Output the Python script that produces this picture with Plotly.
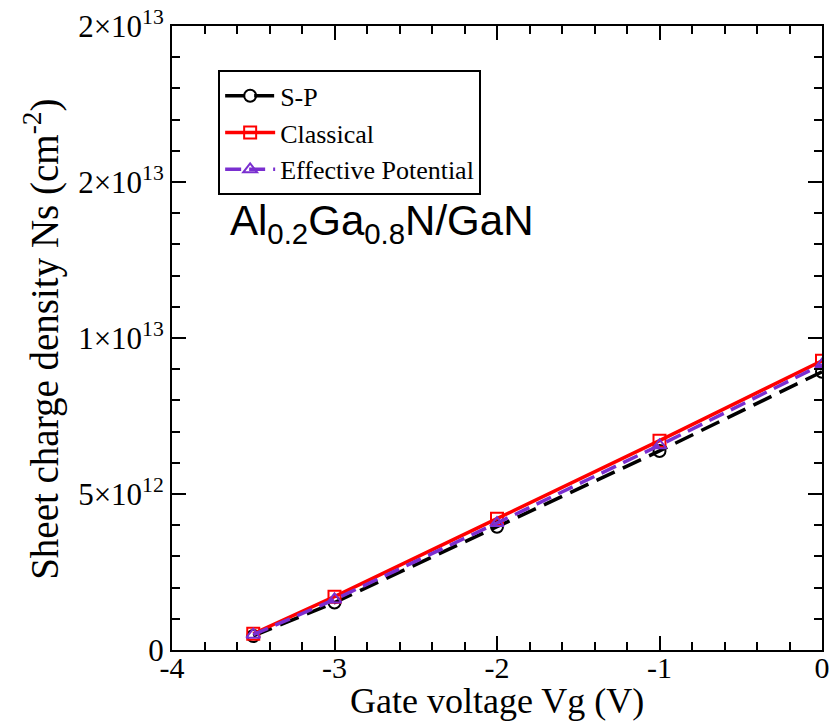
import plotly.graph_objects as go

vg = [-3.5, -3, -2, -1, 0]
sp = [0.45e12, 1.52e12, 3.95e12, 6.38e12, 8.92e12]
classical = [0.52e12, 1.71e12, 4.21e12, 6.71e12, 9.27e12]
effective = [0.49e12, 1.62e12, 4.07e12, 6.56e12, 9.15e12]

ytickvals = [0, 5e12, 1e13, 1.5e13, 2e13]
yticktext = ["0", "5×10<sup>12</sup>", "1×10<sup>13</sup>", "2×10<sup>13</sup>", "2×10<sup>13</sup>"]
xtickvals = [-4, -3, -2, -1, 0]
xticktext = ["-4", "-3", "-2", "-1", "0"]

serif = "Liberation Serif, Times New Roman, serif"

fig = go.Figure()
fig.add_trace(go.Scatter(x=vg, y=sp, name="S-P", mode="lines+markers",
                         line=dict(color="black", width=3.5, dash="20px,9px"),
                         marker=dict(symbol="circle-open", size=12, color="black", line=dict(width=2))))
fig.add_trace(go.Scatter(x=vg, y=classical, name="Classical", mode="lines+markers",
                         line=dict(color="#ff0000", width=3.5),
                         marker=dict(symbol="square-open", size=12, color="#ff0000", line=dict(width=2))))
fig.add_trace(go.Scatter(x=vg, y=effective, name="Effective Potential", mode="lines+markers",
                         line=dict(color="#7a2fd0", width=3.5, dash="16px,8px"),
                         marker=dict(symbol="triangle-up-open", size=12, color="#7a2fd0", line=dict(width=2))))

fig.update_layout(
    width=829, height=722,
    margin=dict(l=172, r=7, t=26, b=72, autoexpand=False),
    plot_bgcolor="white", paper_bgcolor="white",
    font=dict(family=serif, color="black", size=28),
    showlegend=True,
    legend=dict(x=0.071, y=0.929, xanchor="left", yanchor="top",
                bordercolor="black", borderwidth=2, bgcolor="white",
                font=dict(family=serif, size=26), tracegroupgap=0, itemwidth=50),
    xaxis=dict(range=[-4, 0], tickvals=xtickvals, ticktext=xticktext,
               ticks="inside", ticklen=14, tickwidth=2, tickcolor="black",
               showline=True, linewidth=2, linecolor="black", mirror="allticks",
               showgrid=False, zeroline=False, automargin=False,
               ticklabeloverflow="allow", ticklabelstandoff=-10,
               minor=dict(ticks="inside", dtick=0.2, ticklen=8, tickwidth=2, tickcolor="black", showgrid=False),
               tickfont=dict(size=30)),
    yaxis=dict(range=[0, 2e13], tickvals=ytickvals, ticktext=yticktext,
               ticks="inside", ticklen=14, tickwidth=2, tickcolor="black",
               showline=True, linewidth=2, linecolor="black", mirror="allticks",
               showgrid=False, zeroline=False, automargin=False,
               ticklabeloverflow="allow",
               minor=dict(ticks="inside", dtick=1e12, ticklen=8, tickwidth=2, tickcolor="black", showgrid=False),
               tickfont=dict(size=31)),
    annotations=[
        dict(text="Al<sub>0.2</sub>Ga<sub>0.8</sub>N/GaN", x=0.086, y=0.683,
             xref="paper", yref="paper", xanchor="left", yanchor="middle",
             showarrow=False, font=dict(family="Liberation Sans, Arial, sans-serif", size=42, color="black")),
        dict(text="Gate voltage Vg (V)", x=0.5, y=-0.082, xref="paper", yref="paper",
             xanchor="center", yanchor="middle", showarrow=False,
             font=dict(family=serif, size=36, color="black")),
        dict(text="Sheet charge density Ns (cm<sup>-2</sup>)", x=-0.2, y=0.497, xref="paper", yref="paper",
             xanchor="center", yanchor="middle", showarrow=False, textangle=-90,
             font=dict(family=serif, size=39, color="black")),
    ]
)

fig.write_html("out.html")
